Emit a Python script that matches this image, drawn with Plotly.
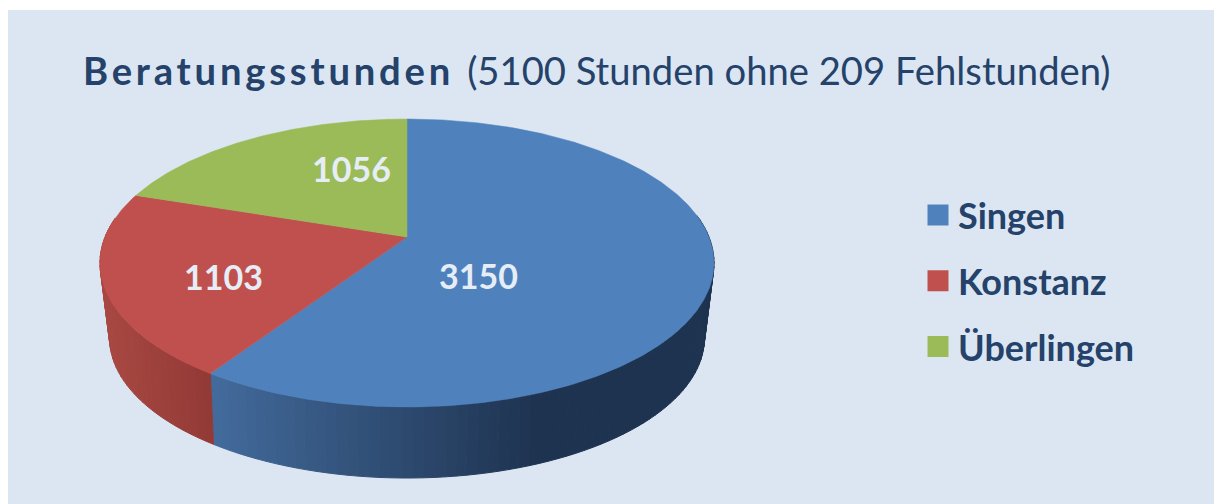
import math
import plotly.graph_objects as go

# --- data ---
categories = ["Singen", "Konstanz", "Überlingen"]
hours = [3150, 1103, 1056]
colors = ["#4f81bd", "#c0504d", "#9bbb59"]
title_bold = "Beratungsstunden"
title_rest = "(5100 Stunden ohne 209 Fehlstunden)"

# --- geometry of the perspective disc (pixels) ---
W, H = 1214, 504
APEX_X, APEX_Y = 407, 237
A, B, K = 302, 139.3, 0.1806
BASE_SCALE, BASE_APEX_Y, BASE_K = 0.965, 310, 0.2
PANEL = "#dce6f2"
TEXT = "#24426a"
LABEL_COLOR = "#e6edf6"
LABEL_XY = [(478, 275), (223, 276), (351, 168)]


def rim(theta, scale=1.0, ay=APEX_Y, k=K):
    u, v = math.sin(theta), math.cos(theta)
    d = 1 + k * v
    return APEX_X + scale * A * u / d, ay - scale * B * v / d


def base(theta):
    return rim(theta, BASE_SCALE, BASE_APEX_Y, BASE_K)


def lerp(c1, c2, t):
    t = max(0, min(1, t))
    return "rgb(%d,%d,%d)" % tuple(round(a + (b - a) * t) for a, b in zip(c1, c2))


def side_color(i, x):
    if i == 0:
        return lerp((66, 106, 155), (30, 51, 80), (x - 216) / 320)
    if i == 1:
        return lerp((168, 72, 66), (146, 57, 53), (x - 105) / 110)
    return "#7d9647"


total = sum(hours)
bounds = [0]
for h in hours:
    bounds.append(bounds[-1] + h / total * 2 * math.pi)

fig = go.Figure()

# side wall: thin strips, drawn only below the top face
for i in range(len(hours)):
    t0, t1 = bounds[i], bounds[i + 1]
    n = max(2, int((t1 - t0) / 0.03))
    for j in range(n):
        a = t0 + (t1 - t0) * j / n
        b = t0 + (t1 - t0) * (j + 1) / n
        if math.cos((a + b) / 2) > 0.15:
            continue
        p = [rim(a), rim(b), base(b), base(a)]
        xs = [q[0] for q in p] + [p[0][0]]
        ys = [q[1] for q in p] + [p[0][1]]
        col = side_color(i, sum(xs[:4]) / 4)
        fig.add_trace(go.Scatter(x=xs, y=ys, mode="lines", fill="toself", fillcolor=col,
                                 line=dict(color=col, width=1), hoverinfo="skip", showlegend=False))

# top face
for i in range(len(hours)):
    t0, t1 = bounds[i], bounds[i + 1]
    n = max(8, int((t1 - t0) / 0.01))
    pts = [rim(t0 + (t1 - t0) * j / n) for j in range(n + 1)]
    xs = [APEX_X] + [q[0] for q in pts] + [APEX_X]
    ys = [APEX_Y] + [q[1] for q in pts] + [APEX_Y]
    fig.add_trace(go.Scatter(x=xs, y=ys, mode="lines", fill="toself", fillcolor=colors[i],
                             line=dict(color=colors[i], width=0.5), hoverinfo="skip", showlegend=False))

# legend entries
for name, col in zip(categories, colors):
    fig.add_trace(go.Scatter(x=[None], y=[None], mode="markers", name=name, legendgroup=name,
                             marker=dict(symbol="square", size=16, color=col, line=dict(color=col, width=5))))

annotations = [
    dict(x=81, y=70, xref="x", yref="y", xanchor="left", yanchor="middle", showarrow=False,
         text='<span style="letter-spacing:3.8px;font-weight:bold">%s </span>%s' % (title_bold, title_rest),
         font=dict(family="Lato", size=38.2, color=TEXT)),
]
for h, (lx, ly) in zip(hours, LABEL_XY):
    annotations.append(dict(x=lx, y=ly, xref="x", yref="y", showarrow=False, text="<b>%d</b>" % h,
                            font=dict(family="Lato", size=34, color=LABEL_COLOR)))

fig.update_layout(
    width=W, height=H, margin=dict(l=0, r=0, t=0, b=0),
    paper_bgcolor="white", plot_bgcolor="rgba(0,0,0,0)",
    xaxis=dict(range=[0, W], visible=False, fixedrange=True),
    yaxis=dict(range=[H, 0], visible=False, fixedrange=True),
    shapes=[dict(type="rect", xref="x", yref="y", x0=8, y0=10, x1=W, y1=H,
                 fillcolor=PANEL, line_width=0, layer="below")],
    annotations=annotations,
    legend=dict(x=918 / W, y=1 - 185 / H, xanchor="left", yanchor="top",
                itemsizing="trace", itemwidth=30, tracegroupgap=16, bgcolor="rgba(0,0,0,0)",
                font=dict(family="Lato", size=36, color=TEXT, weight="bold")),
)
fig.write_html("out.html", config={"displayModeBar": False},
               post_script="document.body.style.margin='0';")
